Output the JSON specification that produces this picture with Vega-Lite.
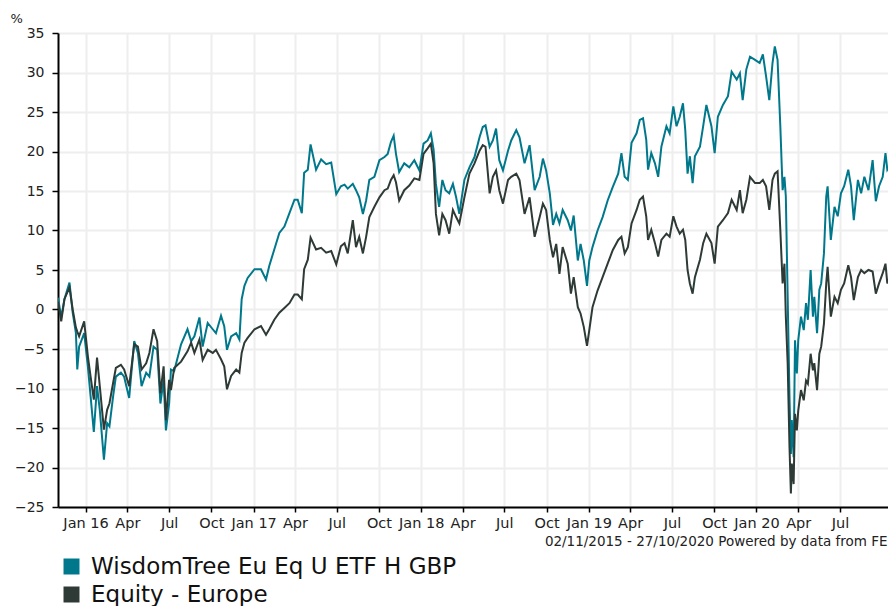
{
  "$schema": "https://vega.github.io/schema/vega-lite/v6.json",
  "width": 830,
  "height": 474,
  "autosize": {"type": "none"},
  "padding": {"left": 58, "top": 33, "right": 0, "bottom": 99},
  "background": "white",
  "config": {
    "font": "DejaVu Sans",
    "view": {"stroke": null}
  },
  "datasets": {
    "w": [
      {"d":"2015-11-02","v":1.5},{"d":"2015-11-09","v":-1},{"d":"2015-11-16","v":1.3},{"d":"2015-11-27","v":3.4},{"d":"2015-12-04","v":-0.4},{"d":"2015-12-11","v":-3},{"d":"2015-12-14","v":-7.6},{"d":"2015-12-18","v":-4.7},{"d":"2015-12-29","v":-3},
      {"d":"2016-01-06","v":-7.2},{"d":"2016-01-12","v":-11},{"d":"2016-01-19","v":-15.5},{"d":"2016-01-26","v":-9.7},{"d":"2016-02-01","v":-12.7},{"d":"2016-02-10","v":-19},{"d":"2016-02-17","v":-14.4},{"d":"2016-02-22","v":-14.8},{"d":"2016-03-01","v":-11},{"d":"2016-03-07","v":-8.5},{"d":"2016-03-18","v":-8},{"d":"2016-03-25","v":-8.5},{"d":"2016-04-05","v":-11.2},{"d":"2016-04-16","v":-4},{"d":"2016-04-24","v":-5.5},{"d":"2016-05-02","v":-9.7},{"d":"2016-05-12","v":-8},{"d":"2016-05-19","v":-8.5},{"d":"2016-05-28","v":-4.7},{"d":"2016-06-05","v":-5.1},{"d":"2016-06-12","v":-11.9},{"d":"2016-06-19","v":-8.9},{"d":"2016-06-24","v":-15.3},{"d":"2016-07-01","v":-11.9},{"d":"2016-07-05","v":-7.6},{"d":"2016-07-12","v":-7.8},{"d":"2016-07-27","v":-4.4},{"d":"2016-08-10","v":-2.5},{"d":"2016-08-18","v":-4},{"d":"2016-08-25","v":-3.4},{"d":"2016-09-05","v":-1},{"d":"2016-09-12","v":-4.7},{"d":"2016-09-23","v":-1.7},{"d":"2016-10-04","v":-2.5},{"d":"2016-10-11","v":-3},{"d":"2016-10-22","v":-0.8},{"d":"2016-10-29","v":-2.1},{"d":"2016-11-04","v":-5.1},{"d":"2016-11-13","v":-3.4},{"d":"2016-11-24","v":-3},{"d":"2016-12-01","v":-3.8},{"d":"2016-12-06","v":1.3},{"d":"2016-12-12","v":3},{"d":"2016-12-19","v":4},
      {"d":"2017-01-03","v":5.1},{"d":"2017-01-17","v":5.1},{"d":"2017-01-28","v":3.8},{"d":"2017-02-04","v":5.5},{"d":"2017-02-15","v":7.6},{"d":"2017-02-26","v":9.7},{"d":"2017-03-09","v":10.5},{"d":"2017-03-20","v":12.2},{"d":"2017-03-31","v":13.9},{"d":"2017-04-07","v":13.9},{"d":"2017-04-16","v":12.2},{"d":"2017-04-21","v":17.3},{"d":"2017-04-29","v":17.7},{"d":"2017-05-05","v":20.9},{"d":"2017-05-17","v":17.7},{"d":"2017-05-28","v":19},{"d":"2017-06-08","v":18.4},{"d":"2017-06-19","v":18.6},{"d":"2017-06-30","v":14.6},{"d":"2017-07-10","v":15.6},{"d":"2017-07-18","v":15.8},{"d":"2017-07-25","v":15.3},{"d":"2017-08-05","v":15.9},{"d":"2017-08-12","v":15.1},{"d":"2017-08-19","v":14.2},{"d":"2017-08-27","v":12.1},{"d":"2017-09-03","v":13.8},{"d":"2017-09-10","v":16.4},{"d":"2017-09-21","v":16.8},{"d":"2017-10-02","v":18.9},{"d":"2017-10-13","v":19.3},{"d":"2017-10-20","v":19.7},{"d":"2017-10-27","v":21.2},{"d":"2017-11-02","v":22},{"d":"2017-11-07","v":19.7},{"d":"2017-11-14","v":17.4},{"d":"2017-11-25","v":18.5},{"d":"2017-12-06","v":18},{"d":"2017-12-17","v":18.9},{"d":"2017-12-28","v":17.6},
      {"d":"2018-01-06","v":21},{"d":"2018-01-15","v":21.4},{"d":"2018-01-22","v":22.3},{"d":"2018-01-28","v":20.2},{"d":"2018-02-02","v":15.9},{"d":"2018-02-09","v":13},{"d":"2018-02-16","v":16.4},{"d":"2018-02-23","v":15.1},{"d":"2018-03-03","v":14.7},{"d":"2018-03-11","v":15.9},{"d":"2018-03-18","v":14.2},{"d":"2018-03-25","v":12.1},{"d":"2018-04-05","v":16.4},{"d":"2018-04-16","v":18},{"d":"2018-04-27","v":19.3},{"d":"2018-05-08","v":21.8},{"d":"2018-05-15","v":23.1},{"d":"2018-05-21","v":23.3},{"d":"2018-05-30","v":20.6},{"d":"2018-06-06","v":21.4},{"d":"2018-06-13","v":22.9},{"d":"2018-06-20","v":18.9},{"d":"2018-06-28","v":17.6},{"d":"2018-07-09","v":20.1},{"d":"2018-07-16","v":21.4},{"d":"2018-07-27","v":22.7},{"d":"2018-08-03","v":21.8},{"d":"2018-08-14","v":18.5},{"d":"2018-08-25","v":20.8},{"d":"2018-09-05","v":15.1},{"d":"2018-09-16","v":16.8},{"d":"2018-09-23","v":19.1},{"d":"2018-09-30","v":17.6},{"d":"2018-10-08","v":14.7},{"d":"2018-10-15","v":10.7},{"d":"2018-10-22","v":12.1},{"d":"2018-10-29","v":10.9},{"d":"2018-11-05","v":12.6},{"d":"2018-11-16","v":11.3},{"d":"2018-11-23","v":10},{"d":"2018-11-29","v":11.9},{"d":"2018-12-08","v":6.2},{"d":"2018-12-14","v":8.3},{"d":"2018-12-21","v":6.2},{"d":"2018-12-28","v":3},
      {"d":"2019-01-02","v":6.2},{"d":"2019-01-09","v":7.9},{"d":"2019-01-20","v":10},{"d":"2019-01-31","v":11.7},{"d":"2019-02-11","v":13.8},{"d":"2019-02-22","v":15.5},{"d":"2019-03-06","v":17.2},{"d":"2019-03-13","v":19.8},{"d":"2019-03-20","v":16.8},{"d":"2019-03-27","v":16.4},{"d":"2019-04-04","v":21.1},{"d":"2019-04-15","v":22.3},{"d":"2019-04-22","v":24},{"d":"2019-04-29","v":24.2},{"d":"2019-05-06","v":21.5},{"d":"2019-05-10","v":17.7},{"d":"2019-05-17","v":19.8},{"d":"2019-05-25","v":18.5},{"d":"2019-06-01","v":16.8},{"d":"2019-06-08","v":20.6},{"d":"2019-06-19","v":23.2},{"d":"2019-06-26","v":22.3},{"d":"2019-07-04","v":25.7},{"d":"2019-07-11","v":23.2},{"d":"2019-07-18","v":24.4},{"d":"2019-07-25","v":26.1},{"d":"2019-07-30","v":22.7},{"d":"2019-08-04","v":17.2},{"d":"2019-08-09","v":19.4},{"d":"2019-08-15","v":16},{"d":"2019-08-20","v":19.4},{"d":"2019-08-31","v":20.6},{"d":"2019-09-07","v":23.2},{"d":"2019-09-14","v":25.9},{"d":"2019-09-25","v":23.2},{"d":"2019-10-02","v":19.8},{"d":"2019-10-09","v":24.4},{"d":"2019-10-20","v":25.9},{"d":"2019-10-31","v":27},{"d":"2019-11-08","v":30.1},{"d":"2019-11-19","v":29.1},{"d":"2019-11-26","v":29.9},{"d":"2019-12-02","v":26.5},{"d":"2019-12-10","v":30.4},{"d":"2019-12-18","v":32},{"d":"2019-12-29","v":31.6},
      {"d":"2020-01-08","v":31.2},{"d":"2020-01-15","v":32.3},{"d":"2020-01-22","v":29.5},{"d":"2020-01-29","v":26.5},{"d":"2020-02-05","v":31.2},{"d":"2020-02-10","v":33.3},{"d":"2020-02-16","v":31.6},{"d":"2020-02-22","v":23.2},{"d":"2020-02-27","v":15.1},{"d":"2020-03-02","v":16.8},{"d":"2020-03-05","v":14.3},{"d":"2020-03-09","v":1.6},{"d":"2020-03-13","v":-11.1},{"d":"2020-03-16","v":-18.3},{"d":"2020-03-18","v":-14},{"d":"2020-03-22","v":-18.7},{"d":"2020-03-25","v":-3.9},{"d":"2020-03-29","v":-8.1},{"d":"2020-04-01","v":-3.9},{"d":"2020-04-07","v":-0.9},{"d":"2020-04-13","v":-2.6},{"d":"2020-04-18","v":0.8},{"d":"2020-04-22","v":-1.3},{"d":"2020-04-28","v":5},{"d":"2020-05-03","v":-0.9},{"d":"2020-05-06","v":1.6},{"d":"2020-05-12","v":-3},{"d":"2020-05-17","v":2.5},{"d":"2020-05-21","v":3.3},{"d":"2020-05-27","v":7.1},{"d":"2020-06-01","v":14.3},{"d":"2020-06-04","v":15.6},{"d":"2020-06-11","v":8.8},{"d":"2020-06-19","v":13},{"d":"2020-06-26","v":11.8},{"d":"2020-07-03","v":14.7},{"d":"2020-07-10","v":15.6},{"d":"2020-07-19","v":17.7},{"d":"2020-07-25","v":15.6},{"d":"2020-07-31","v":11.3},{"d":"2020-08-09","v":16.4},{"d":"2020-08-16","v":14.7},{"d":"2020-08-23","v":16.8},{"d":"2020-09-01","v":15.1},{"d":"2020-09-10","v":18.9},{"d":"2020-09-17","v":13.7},{"d":"2020-09-24","v":15.6},{"d":"2020-10-02","v":16.8},{"d":"2020-10-08","v":19.8},{"d":"2020-10-12","v":17.7},{"d":"2020-10-20","v":18.5},{"d":"2020-10-27","v":17}
    ],
    "e": [
      {"d":"2015-11-02","v":1},{"d":"2015-11-09","v":-1.5},{"d":"2015-11-16","v":1.3},{"d":"2015-11-27","v":2.8},{"d":"2015-12-04","v":0},{"d":"2015-12-11","v":-2.3},{"d":"2015-12-14","v":-2.8},{"d":"2015-12-18","v":-3.4},{"d":"2015-12-29","v":-1.5},
      {"d":"2016-01-06","v":-5.9},{"d":"2016-01-12","v":-8.5},{"d":"2016-01-19","v":-11.4},{"d":"2016-01-26","v":-6.1},{"d":"2016-02-01","v":-9.7},{"d":"2016-02-10","v":-15.2},{"d":"2016-02-17","v":-12.7},{"d":"2016-02-22","v":-11.9},{"d":"2016-03-01","v":-9.3},{"d":"2016-03-07","v":-7.4},{"d":"2016-03-18","v":-7},{"d":"2016-03-25","v":-7.6},{"d":"2016-04-05","v":-9.7},{"d":"2016-04-16","v":-4.4},{"d":"2016-04-24","v":-4.7},{"d":"2016-05-02","v":-7.6},{"d":"2016-05-12","v":-6.8},{"d":"2016-05-19","v":-5.5},{"d":"2016-05-28","v":-2.5},{"d":"2016-06-05","v":-4},{"d":"2016-06-12","v":-10.6},{"d":"2016-06-19","v":-7.2},{"d":"2016-06-24","v":-14},{"d":"2016-07-01","v":-8.9},{"d":"2016-07-05","v":-10.2},{"d":"2016-07-12","v":-7.4},{"d":"2016-07-27","v":-6.6},{"d":"2016-08-10","v":-5.3},{"d":"2016-08-18","v":-4.2},{"d":"2016-08-25","v":-5.5},{"d":"2016-09-05","v":-3.8},{"d":"2016-09-12","v":-6.4},{"d":"2016-09-23","v":-5.1},{"d":"2016-10-04","v":-5.5},{"d":"2016-10-11","v":-5.1},{"d":"2016-10-22","v":-6.3},{"d":"2016-10-29","v":-7.2},{"d":"2016-11-04","v":-10.1},{"d":"2016-11-13","v":-8.4},{"d":"2016-11-24","v":-7.6},{"d":"2016-12-01","v":-8},{"d":"2016-12-06","v":-5.5},{"d":"2016-12-12","v":-4.2},{"d":"2016-12-19","v":-3.6},
      {"d":"2017-01-03","v":-2.5},{"d":"2017-01-17","v":-2.1},{"d":"2017-01-28","v":-3.2},{"d":"2017-02-04","v":-2.5},{"d":"2017-02-15","v":-1.3},{"d":"2017-02-26","v":-0.4},{"d":"2017-03-09","v":0.2},{"d":"2017-03-20","v":0.8},{"d":"2017-03-31","v":1.9},{"d":"2017-04-07","v":1.9},{"d":"2017-04-16","v":1.3},{"d":"2017-04-21","v":5.1},{"d":"2017-04-29","v":6.3},{"d":"2017-05-05","v":9.1},{"d":"2017-05-17","v":7.6},{"d":"2017-05-28","v":7.8},{"d":"2017-06-08","v":7.2},{"d":"2017-06-19","v":7.4},{"d":"2017-06-30","v":5.7},{"d":"2017-07-10","v":8},{"d":"2017-07-18","v":8.4},{"d":"2017-07-25","v":7.1},{"d":"2017-08-05","v":11.3},{"d":"2017-08-12","v":7.9},{"d":"2017-08-19","v":9.2},{"d":"2017-08-27","v":7.1},{"d":"2017-09-03","v":9.2},{"d":"2017-09-10","v":11.7},{"d":"2017-09-21","v":13},{"d":"2017-10-02","v":14.2},{"d":"2017-10-13","v":15.1},{"d":"2017-10-20","v":15.3},{"d":"2017-10-27","v":16.4},{"d":"2017-11-02","v":17},{"d":"2017-11-07","v":16.1},{"d":"2017-11-14","v":13.8},{"d":"2017-11-25","v":15.1},{"d":"2017-12-06","v":15.7},{"d":"2017-12-17","v":16.6},{"d":"2017-12-28","v":16.4},
      {"d":"2018-01-06","v":19.7},{"d":"2018-01-15","v":20.4},{"d":"2018-01-22","v":21},{"d":"2018-01-28","v":18.5},{"d":"2018-02-02","v":12.1},{"d":"2018-02-09","v":9.4},{"d":"2018-02-16","v":12.1},{"d":"2018-02-23","v":11.3},{"d":"2018-03-03","v":9.6},{"d":"2018-03-11","v":12.6},{"d":"2018-03-18","v":11.7},{"d":"2018-03-25","v":10.9},{"d":"2018-04-05","v":14.2},{"d":"2018-04-16","v":17.2},{"d":"2018-04-27","v":18.5},{"d":"2018-05-08","v":20.1},{"d":"2018-05-15","v":20.8},{"d":"2018-05-21","v":20.6},{"d":"2018-05-30","v":14.7},{"d":"2018-06-06","v":16.8},{"d":"2018-06-13","v":17.6},{"d":"2018-06-20","v":15.1},{"d":"2018-06-28","v":13.4},{"d":"2018-07-09","v":16.4},{"d":"2018-07-16","v":16.8},{"d":"2018-07-27","v":17.2},{"d":"2018-08-03","v":16.4},{"d":"2018-08-14","v":12.1},{"d":"2018-08-25","v":14.2},{"d":"2018-09-05","v":9.2},{"d":"2018-09-16","v":11.7},{"d":"2018-09-23","v":13.4},{"d":"2018-09-30","v":12.6},{"d":"2018-10-08","v":8.8},{"d":"2018-10-15","v":6.6},{"d":"2018-10-22","v":8.3},{"d":"2018-10-29","v":4.5},{"d":"2018-11-05","v":7.9},{"d":"2018-11-16","v":5.8},{"d":"2018-11-23","v":2},{"d":"2018-11-29","v":4.1},{"d":"2018-12-08","v":0.3},{"d":"2018-12-14","v":-0.5},{"d":"2018-12-21","v":-2.2},{"d":"2018-12-28","v":-4.6},
      {"d":"2019-01-02","v":-2.6},{"d":"2019-01-09","v":0.3},{"d":"2019-01-20","v":2.4},{"d":"2019-01-31","v":4.1},{"d":"2019-02-11","v":5.8},{"d":"2019-02-22","v":7.5},{"d":"2019-03-06","v":8.8},{"d":"2019-03-13","v":9.2},{"d":"2019-03-20","v":7.1},{"d":"2019-03-27","v":7.9},{"d":"2019-04-04","v":10.9},{"d":"2019-04-15","v":12.6},{"d":"2019-04-22","v":13.9},{"d":"2019-04-29","v":14.3},{"d":"2019-05-06","v":11.8},{"d":"2019-05-10","v":8.8},{"d":"2019-05-17","v":10.1},{"d":"2019-05-25","v":8.4},{"d":"2019-06-01","v":6.7},{"d":"2019-06-08","v":8.8},{"d":"2019-06-19","v":9.6},{"d":"2019-06-26","v":9.2},{"d":"2019-07-04","v":11.8},{"d":"2019-07-11","v":10.5},{"d":"2019-07-18","v":9.6},{"d":"2019-07-25","v":10.1},{"d":"2019-07-30","v":8.8},{"d":"2019-08-04","v":5},{"d":"2019-08-09","v":3.3},{"d":"2019-08-15","v":2},{"d":"2019-08-20","v":4.1},{"d":"2019-08-31","v":6.3},{"d":"2019-09-07","v":8.4},{"d":"2019-09-14","v":9.6},{"d":"2019-09-25","v":8.4},{"d":"2019-10-02","v":5.8},{"d":"2019-10-09","v":10.5},{"d":"2019-10-20","v":11.3},{"d":"2019-10-31","v":12.2},{"d":"2019-11-08","v":13.9},{"d":"2019-11-19","v":12.6},{"d":"2019-11-26","v":15.1},{"d":"2019-12-02","v":12.2},{"d":"2019-12-10","v":13.9},{"d":"2019-12-18","v":16.8},{"d":"2019-12-29","v":16},
      {"d":"2020-01-08","v":16},{"d":"2020-01-15","v":16.4},{"d":"2020-01-22","v":15.6},{"d":"2020-01-29","v":12.6},{"d":"2020-02-05","v":16.4},{"d":"2020-02-10","v":17.2},{"d":"2020-02-16","v":17.5},{"d":"2020-02-22","v":10.1},{"d":"2020-02-27","v":3.3},{"d":"2020-03-02","v":5.8},{"d":"2020-03-05","v":-0.9},{"d":"2020-03-09","v":-6.8},{"d":"2020-03-13","v":-17.4},{"d":"2020-03-16","v":-23.3},{"d":"2020-03-18","v":-19.5},{"d":"2020-03-22","v":-22.1},{"d":"2020-03-25","v":-13.2},{"d":"2020-03-29","v":-15.3},{"d":"2020-04-01","v":-12.8},{"d":"2020-04-07","v":-10.2},{"d":"2020-04-13","v":-11.5},{"d":"2020-04-18","v":-9},{"d":"2020-04-22","v":-9.4},{"d":"2020-04-28","v":-5.6},{"d":"2020-05-03","v":-7.7},{"d":"2020-05-06","v":-6.8},{"d":"2020-05-12","v":-10.2},{"d":"2020-05-17","v":-5.6},{"d":"2020-05-21","v":-4.7},{"d":"2020-05-27","v":-1.8},{"d":"2020-06-01","v":3.3},{"d":"2020-06-04","v":5.4},{"d":"2020-06-11","v":-0.9},{"d":"2020-06-19","v":1.6},{"d":"2020-06-26","v":0.8},{"d":"2020-07-03","v":2.5},{"d":"2020-07-10","v":3.3},{"d":"2020-07-19","v":5.6},{"d":"2020-07-25","v":4.1},{"d":"2020-07-31","v":1.2},{"d":"2020-08-09","v":4.1},{"d":"2020-08-16","v":5},{"d":"2020-08-23","v":4.6},{"d":"2020-09-01","v":5},{"d":"2020-09-10","v":4.8},{"d":"2020-09-17","v":2},{"d":"2020-09-24","v":3.3},{"d":"2020-10-02","v":4.6},{"d":"2020-10-08","v":5.8},{"d":"2020-10-12","v":3.3},{"d":"2020-10-20","v":4.5},{"d":"2020-10-27","v":3}
    ]
  },
  "encoding": {
    "x": {
      "field": "d",
      "type": "temporal",
      "scale": {
        "type": "utc",
        "domain": [{"year": 2015, "month": 11, "date": 2, "utc": true}, {"year": 2020, "month": 10, "date": 13, "hours": 12, "utc": true}],
        "nice": false
      },
      "axis": {
        "title": "02/11/2015 - 27/10/2020 Powered by data from FE",
        "titleFontSize": 13.5,
        "titleFontWeight": "normal",
        "titleColor": "#222222",
        "titleAlign": "right",
        "titleAnchor": null,
        "titleBaseline": "alphabetic",
        "titleX": 829,
        "titleY": 38,
        "values": [
          {"year": 2016, "month": 1, "date": 1, "utc": true}, {"year": 2016, "month": 4, "date": 1, "utc": true}, {"year": 2016, "month": 7, "date": 1, "utc": true}, {"year": 2016, "month": 10, "date": 1, "utc": true},
          {"year": 2017, "month": 1, "date": 1, "utc": true}, {"year": 2017, "month": 4, "date": 1, "utc": true}, {"year": 2017, "month": 7, "date": 1, "utc": true}, {"year": 2017, "month": 10, "date": 1, "utc": true},
          {"year": 2018, "month": 1, "date": 1, "utc": true}, {"year": 2018, "month": 4, "date": 1, "utc": true}, {"year": 2018, "month": 7, "date": 1, "utc": true}, {"year": 2018, "month": 10, "date": 1, "utc": true},
          {"year": 2019, "month": 1, "date": 1, "utc": true}, {"year": 2019, "month": 4, "date": 1, "utc": true}, {"year": 2019, "month": 7, "date": 1, "utc": true}, {"year": 2019, "month": 10, "date": 1, "utc": true},
          {"year": 2020, "month": 1, "date": 1, "utc": true}, {"year": 2020, "month": 4, "date": 1, "utc": true}, {"year": 2020, "month": 7, "date": 1, "utc": true}
        ],
        "labelExpr": "utcFormat(datum.value, '%m') == '01' ? utcFormat(datum.value, '%b %y') : utcFormat(datum.value, '%b')",
        "labelFontSize": 14.5,
        "labelColor": "#222222",
        "labelPadding": 4,
        "labelOverlap": false,
        "labelFlush": false,
        "tickColor": "#000000",
        "tickSize": 5,
        "tickWidth": 1.5,
        "domainColor": "#000000",
        "domainWidth": 2,
        "gridColor": "#eeeeee",
        "gridWidth": 2
      }
    },
    "y": {
      "field": "v",
      "type": "quantitative",
      "scale": {"domain": [-25, 35], "nice": false, "zero": false},
      "axis": {
        "values": [-25, -20, -15, -10, -5, 0, 5, 10, 15, 20, 25, 30, 35],
        "title": "%",
        "titleAngle": 0,
        "titleAlign": "left",
        "titleBaseline": "alphabetic",
        "titleX": -48,
        "titleY": -11,
        "titleFontSize": 13,
        "titleFontWeight": "normal",
        "titleColor": "#222222",
        "labelFontSize": 14,
        "labelColor": "#222222",
        "labelPadding": 8,
        "tickColor": "#000000",
        "tickSize": 6,
        "tickWidth": 1.5,
        "domainColor": "#000000",
        "domainWidth": 2,
        "gridColor": "#eeeeee",
        "gridWidth": 2
      }
    }
  },
  "layer": [
    {
      "data": {"name": "w"},
      "mark": {"type": "line", "strokeWidth": 2, "clip": true},
      "encoding": {
        "color": {
          "datum": "WisdomTree Eu Eq U ETF H GBP",
          "type": "nominal",
          "scale": {"domain": ["WisdomTree Eu Eq U ETF H GBP", "Equity - Europe"], "range": ["#00788c", "#2d3a36"]},
          "legend": {
            "orient": "none", "legendX": 2, "legendY": 522, "title": null, "padding": 0,
            "symbolType": "square", "symbolSize": 256, "symbolStrokeWidth": 0,
            "labelFontSize": 23, "labelColor": "#111111", "labelOffset": 8, "rowPadding": 4, "labelLimit": 700,
            "encode": {"symbols": {"update": {"fill": {"scale": "color", "field": "value"}, "shape": {"value": "square"}, "strokeWidth": {"value": 0}}}}
          }
        }
      }
    },
    {
      "data": {"name": "e"},
      "mark": {"type": "line", "strokeWidth": 2, "clip": true},
      "encoding": {
        "color": {
          "datum": "Equity - Europe",
          "type": "nominal",
          "scale": {"domain": ["WisdomTree Eu Eq U ETF H GBP", "Equity - Europe"], "range": ["#00788c", "#2d3a36"]},
          "legend": {
            "orient": "none", "legendX": 2, "legendY": 522, "title": null, "padding": 0,
            "symbolType": "square", "symbolSize": 256, "symbolStrokeWidth": 0,
            "labelFontSize": 23, "labelColor": "#111111", "labelOffset": 8, "rowPadding": 4, "labelLimit": 700,
            "encode": {"symbols": {"update": {"fill": {"scale": "color", "field": "value"}, "shape": {"value": "square"}, "strokeWidth": {"value": 0}}}}
          }
        }
      }
    }
  ]
}
